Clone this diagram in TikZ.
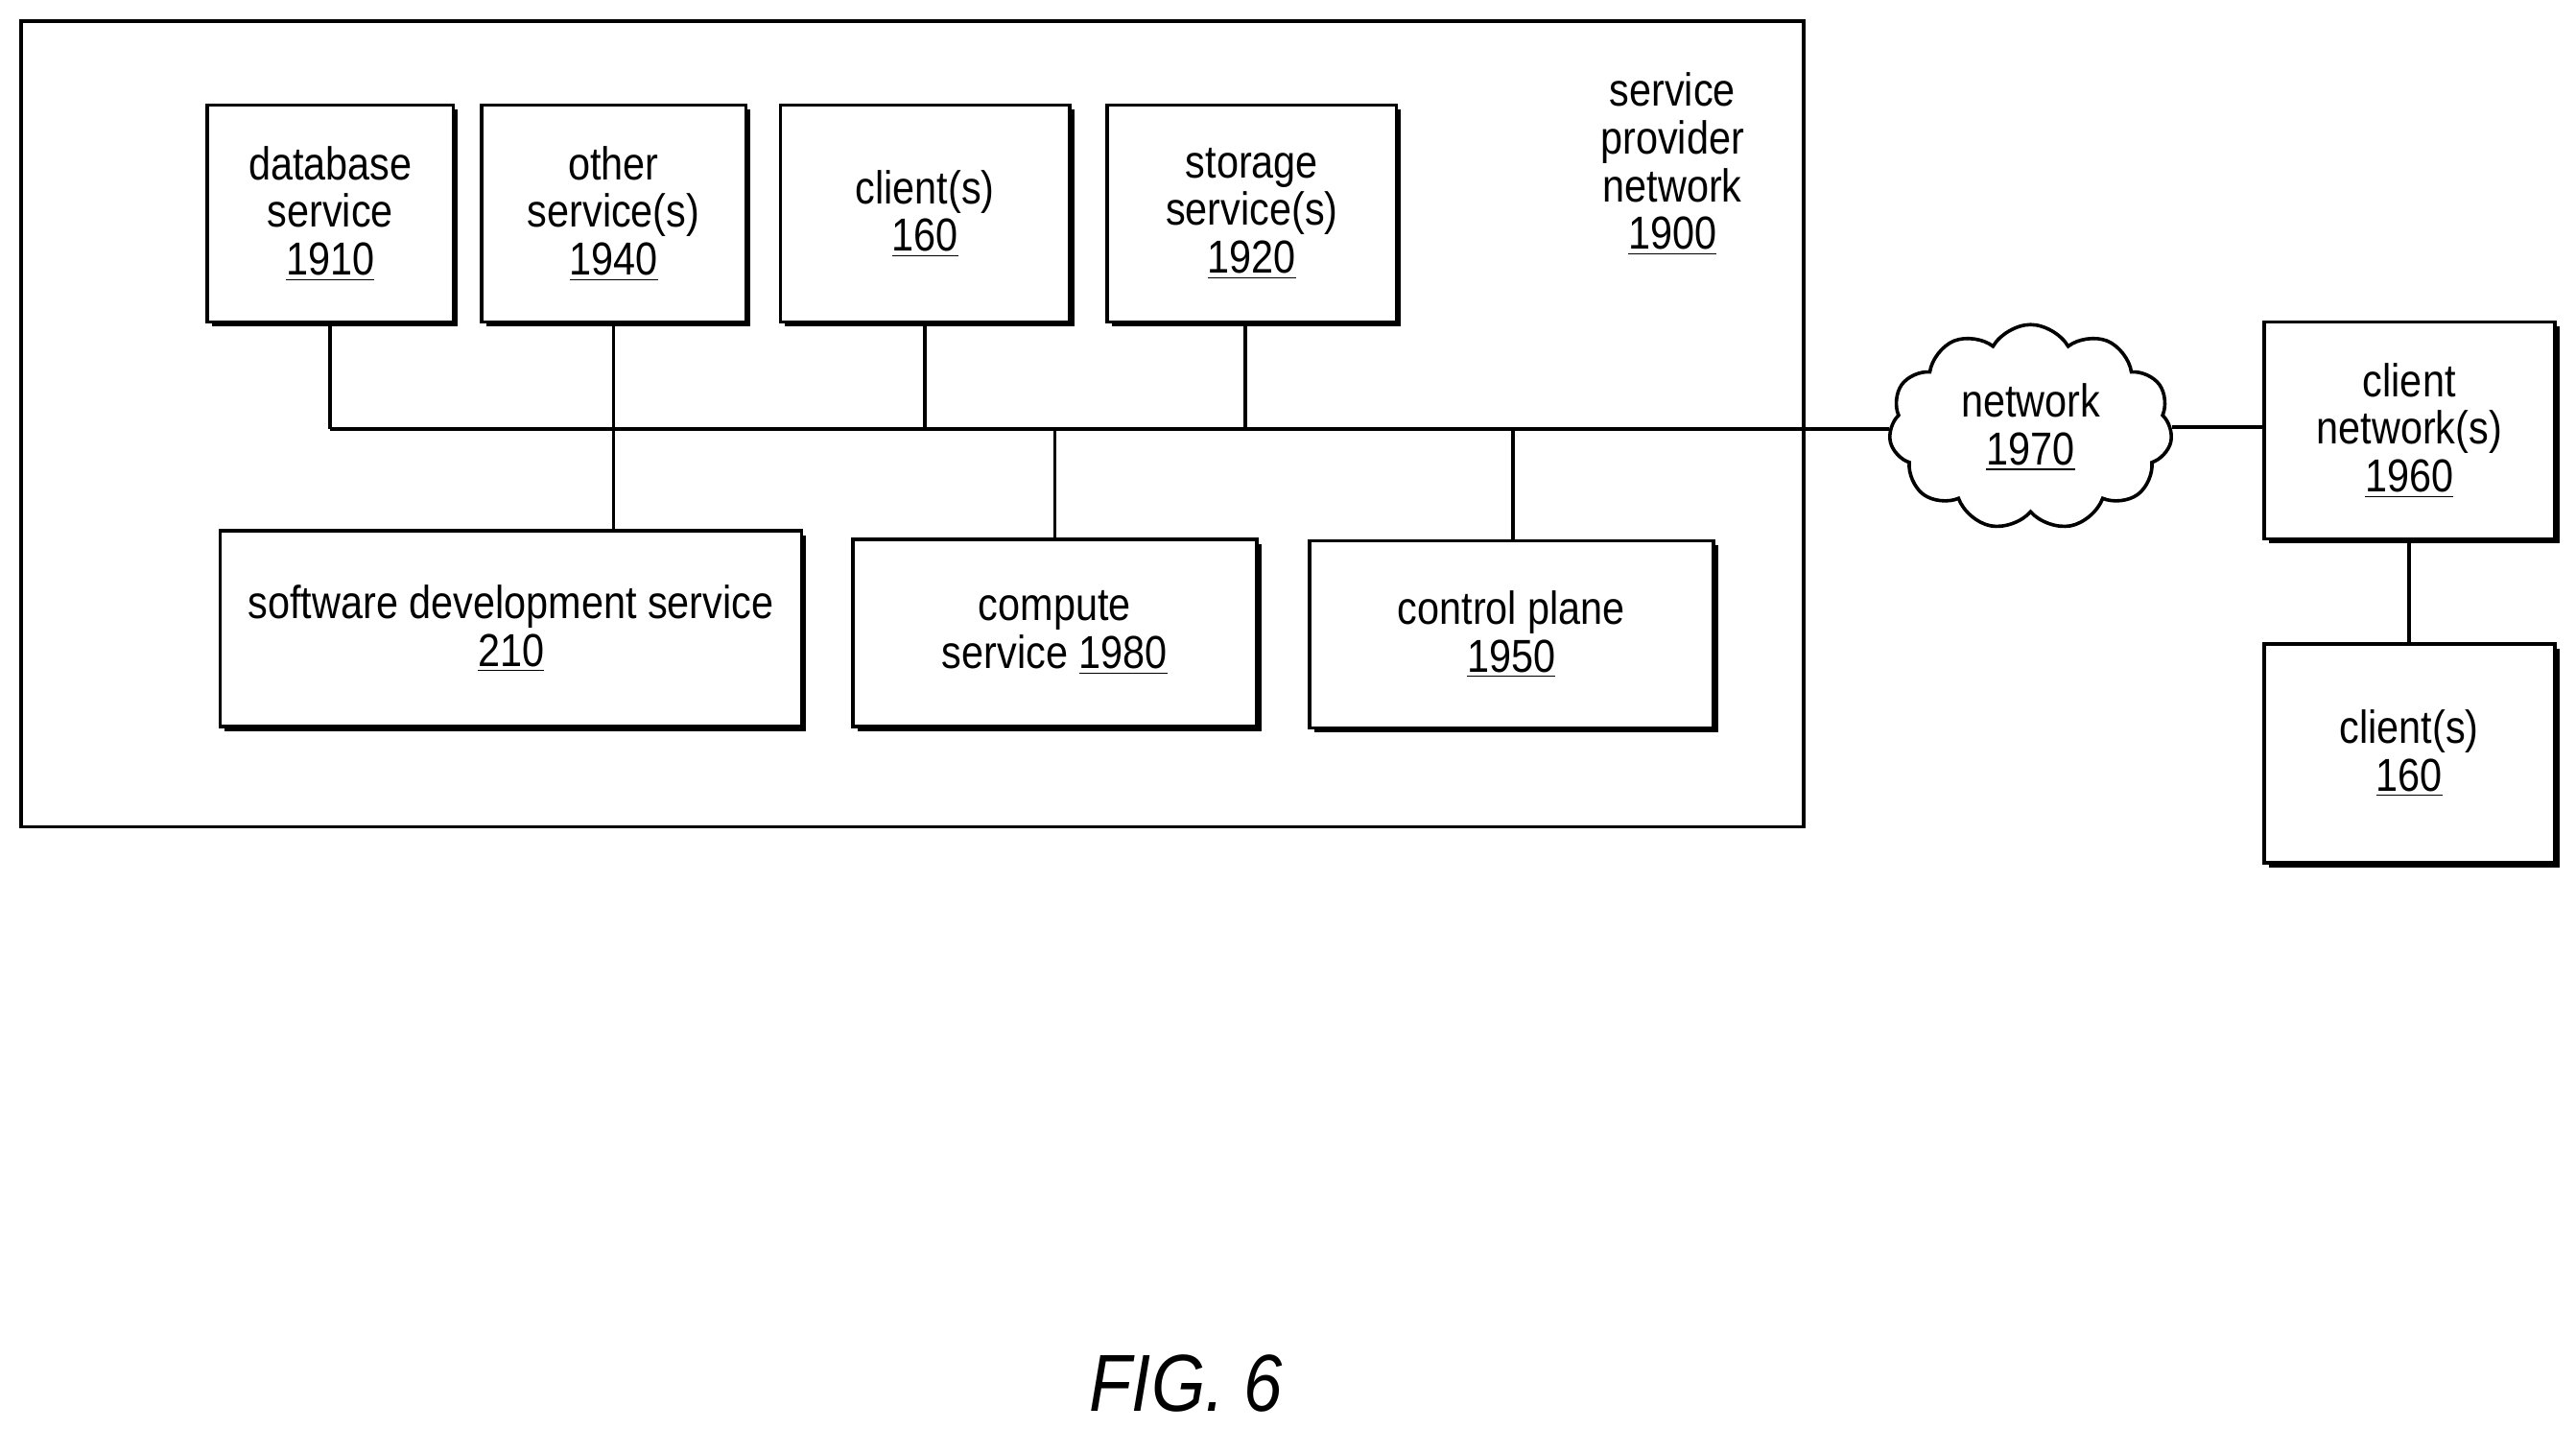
\documentclass[tikz,border=0pt]{standalone}
\usepackage{fontspec}
\setmainfont{Liberation Sans}[FakeStretch=0.86]
\usetikzlibrary{shapes,shadows}

\begin{document}
\begin{tikzpicture}[x=0.02cm, y=-0.02cm, line width=1.2pt]
\tikzstyle{boxr}=[rectangle, draw, fill=white, align=center, inner sep=2pt, font=\fontsize{16}{16.5}\selectfont, drop shadow={shadow xshift=1.6pt, shadow yshift=-1.6pt, fill=black, opacity=1}]
\tikzstyle{linestyle}=[line width=1.2pt]
\useasboundingbox (0,0) rectangle (1568,870);

\draw (13,13) rectangle (1098,503);
\node[align=center, font=\fontsize{16}{16.5}\selectfont] (spn) at (1018,100) {service\\provider\\network\\\underline{1900}};

\node[boxr, minimum width=3.0cm, minimum height=2.64cm] (db) at (201,130) {database\\service\\\underline{1910}};
\node[boxr, minimum width=3.22cm, minimum height=2.64cm] (other) at (373.5,130) {other\\service(s)\\\underline{1940}};
\node[boxr, minimum width=3.52cm, minimum height=2.64cm] (cli) at (563,130) {client(s)\\\underline{160}};
\node[boxr, minimum width=3.52cm, minimum height=2.64cm] (stor) at (762,130) {storage\\service(s)\\\underline{1920}};
\node[boxr, minimum width=7.08cm, minimum height=2.38cm] (swdev) at (311,382.5) {software development service\\\underline{210}};
\node[boxr, minimum width=4.92cm, minimum height=2.28cm] (comp) at (642,385) {compute\\service \underline{1980}};
\node[boxr, minimum width=4.92cm, minimum height=2.28cm] (ctrl) at (920,386) {control plane\\\underline{1950}};
\node[cloud, cloud puffs=11, cloud puff arc=120, aspect=1.4, draw, fill=white, minimum width=3.45cm, minimum height=2.5cm, align=center, font=\fontsize{16}{16.5}\selectfont] (net) at (1236,260) {network\\\underline{1970}};
\node[boxr, minimum width=3.54cm, minimum height=2.64cm] (cnet) at (1466.5,262) {client\\network(s)\\\underline{1960}};
\node[boxr, minimum width=3.54cm, minimum height=2.66cm] (cli2) at (1466.5,458.5) {client(s)\\\underline{160}};

\coordinate (bus) at (201,261);
\draw[linestyle] (db.south) -- (bus);
\draw[linestyle] (bus) -- (bus -| net.west);
\draw[linestyle] (other.south) -- (other.south |- swdev.north);
\draw[linestyle] (cli.south) -- (cli.south |- bus);
\draw[linestyle] (stor.south -| 758,0) -- (758,261);
\draw[linestyle] (comp.north) -- (comp.north |- bus);
\draw[linestyle] (ctrl.north -| 921,0) -- (921,261);
\draw[linestyle] (net.east) -- (net.east -| cnet.west);
\draw[linestyle] (cnet.south) -- (cli2.north);

\node[font=\fontsize{28}{30}\selectfont\itshape] (fig) at (722,842) {FIG. 6};
\end{tikzpicture}
\end{document}
